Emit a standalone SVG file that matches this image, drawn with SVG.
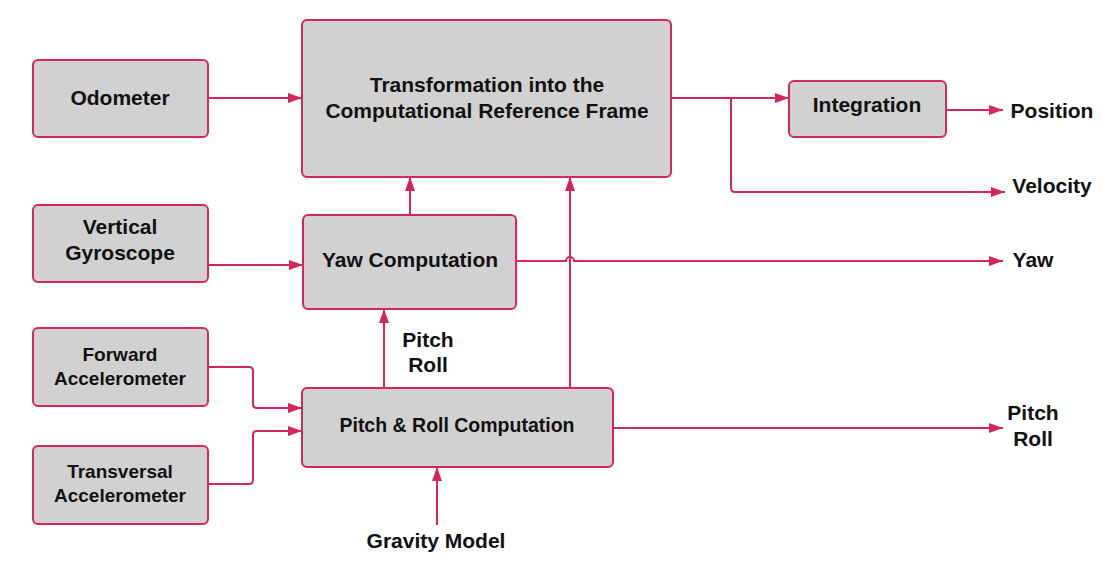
<svg xmlns="http://www.w3.org/2000/svg" width="1102" height="565" viewBox="0 0 1102 565">
<style>
.box{fill:#d1d1d1;stroke:#d3275e;stroke-width:2}
.c{fill:none;stroke:#d3275e;stroke-width:2}
.t{font-family:"Liberation Sans",Arial,sans-serif;font-weight:bold;font-size:21px;fill:#111;text-anchor:middle}
.s{font-size:19px}
</style>
<defs>
<marker id="a" viewBox="0 0 14 10" refX="14" refY="5" markerWidth="14" markerHeight="10" markerUnits="userSpaceOnUse" orient="auto">
<path d="M0,0 L14,5 L0,10 Z" fill="#d3275e"/>
</marker>
</defs>
<rect width="1102" height="565" fill="#fff"/>
<g id="connectors">
<path class="c" d="M208,98 H302" marker-end="url(#a)"/>
<path class="c" d="M671,98 H789" marker-end="url(#a)"/>
<path class="c" d="M731,98 V188 Q731,192 735,192 H1005" marker-end="url(#a)"/>
<path class="c" d="M946,110 H1003" marker-end="url(#a)"/>
<path class="c" d="M208,265 H303" marker-end="url(#a)"/>
<path class="c" d="M410,215 V177" marker-end="url(#a)"/>
<path class="c" d="M516,261 H566 A4,4 0 0 1 574,261 H1003" marker-end="url(#a)"/>
<path class="c" d="M384,388 V309" marker-end="url(#a)"/>
<path class="c" d="M570,388 V177" marker-end="url(#a)"/>
<path class="c" d="M208,367 H249 Q253,367 253,371 V404 Q253,408 257,408 H302" marker-end="url(#a)"/>
<path class="c" d="M208,484 H249 Q253,484 253,480 V435 Q253,431 257,431 H302" marker-end="url(#a)"/>
<path class="c" d="M613,428 H1003" marker-end="url(#a)"/>
<path class="c" d="M437,525 V467" marker-end="url(#a)"/>
</g>
<g id="odometer"><rect class="box" x="33" y="60" width="175" height="77" rx="5"/><text class="t" x="120" y="105">Odometer</text></g>
<g id="transformation"><rect class="box" x="302" y="20" width="369" height="157" rx="5"/><text class="t" x="487" y="92">Transformation into the</text><text class="t" x="487" y="118">Computational Reference Frame</text></g>
<g id="integration"><rect class="box" x="789" y="81" width="157" height="56" rx="5"/><text class="t" x="867" y="112">Integration</text></g>
<g id="gyroscope"><rect class="box" x="33" y="205" width="175" height="77" rx="5"/><text class="t" x="120" y="234">Vertical</text><text class="t" x="120" y="260">Gyroscope</text></g>
<g id="yaw"><rect class="box" x="303" y="215" width="213" height="94" rx="5"/><text class="t" x="410" y="267">Yaw Computation</text></g>
<g id="forward"><rect class="box" x="33" y="328" width="175" height="78" rx="5"/><text class="t s" x="120" y="361">Forward</text><text class="t s" x="120" y="385">Accelerometer</text></g>
<g id="transversal"><rect class="box" x="33" y="446" width="175" height="78" rx="5"/><text class="t s" x="120" y="478">Transversal</text><text class="t s" x="120" y="502">Accelerometer</text></g>
<g id="pitchroll"><rect class="box" x="302" y="388" width="311" height="79" rx="5"/><text class="t" x="457" y="432" style="font-size:19.5px">Pitch &amp; Roll Computation</text></g>
<g id="labels">
<text class="t" x="1052" y="118">Position</text>
<text class="t" x="1052" y="193">Velocity</text>
<text class="t" x="1033" y="267">Yaw</text>
<text class="t" x="428" y="347">Pitch</text>
<text class="t" x="428" y="372">Roll</text>
<text class="t" x="1033" y="420">Pitch</text>
<text class="t" x="1033" y="446">Roll</text>
<text class="t" x="436" y="548">Gravity Model</text>
</g>
</svg>
